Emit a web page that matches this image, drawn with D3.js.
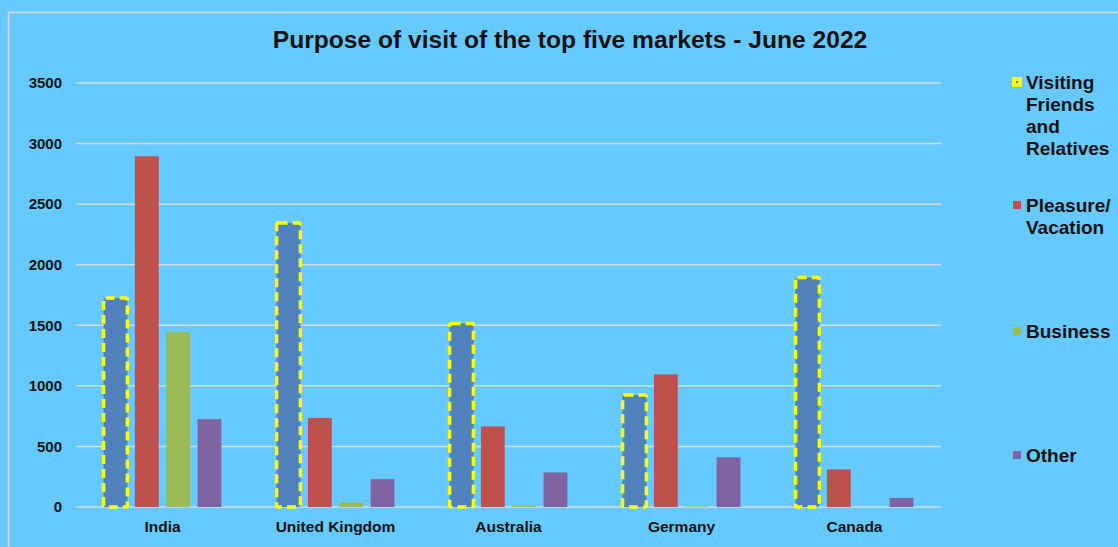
<!DOCTYPE html>
<html>
<head>
<meta charset="utf-8">
<script src="https://cdn.jsdelivr.net/npm/d3@7"></script>
<style>
body { margin:0; background:#66c9ff; }
svg { display:block; font-family: "Liberation Sans", Arial, sans-serif; }
.tick text { font-weight:bold; fill:#111; }
</style>
</head>
<body>
<div id="chart"></div>
<script>
var width = 1118;
var height = 547;

var markets = ["India", "United Kingdom", "Australia", "Germany", "Canada"];
var purposes = ["Visiting Friends and Relatives", "Pleasure/ Vacation", "Business", "Other"];
var visitingFriends = [1725, 2345, 1515, 925, 1895];
var pleasure = [2895, 735, 665, 1095, 310];
var business = [1445, 40, 10, 5, 0];
var other = [725, 230, 285, 410, 75];
var yTicks = [0, 500, 1000, 1500, 2000, 2500, 3000, 3500];
var colors = ["#4f81bd", "#c0504d", "#9bbb59", "#8064a2"];

var series = [visitingFriends, pleasure, business, other];
var rows = markets.map(function(m, i) {
    return { market: m, values: purposes.map(function(p, j) { return { key: p, idx: j, value: series[j][i] }; }) };
});

var svg = d3.select("#chart").append("svg")
    .attr("width", width)
    .attr("height", height);

// background and frame
svg.append("rect").attr("width", width).attr("height", height).attr("fill", "#66c9ff");
svg.append("rect")
    .attr("x", 8.5).attr("y", 12.5)
    .attr("width", width).attr("height", height)
    .attr("fill", "none").attr("stroke", "#d9d9d9").attr("stroke-width", 1.5);

svg.append("text")
    .attr("x", 570).attr("y", 48)
    .attr("text-anchor", "middle")
    .style("font-size", "24.6px").style("font-weight", "bold").attr("fill", "#111")
    .text("Purpose of visit of the top five markets - June 2022");

var x0 = d3.scaleBand().domain(markets).range([76, 941]);
var x1 = d3.scaleBand().domain(purposes).range([0, x0.bandwidth()])
    .paddingInner(0.24).paddingOuter(0.88);
var y = d3.scaleLinear().domain([0, 3500]).range([507, 83]);

// gridlines
svg.append("g").selectAll("line")
    .data(yTicks)
    .enter().append("line")
    .attr("x1", 76).attr("x2", 941)
    .attr("y1", function(d) { return y(d); })
    .attr("y2", function(d) { return y(d); })
    .attr("stroke", "#d9d9d9").attr("stroke-width", 1.5);

var yAxis = d3.axisLeft(y).tickValues(yTicks).tickFormat(d3.format("d")).tickSize(0).tickPadding(0);
svg.append("g")
    .attr("transform", "translate(62,0)")
    .call(yAxis)
    .call(function(g) { g.select(".domain").remove(); })
    .selectAll("text").style("font-size", "15px");

var xAxis = d3.axisBottom(x0).tickSize(0).tickPadding(0);
svg.append("g")
    .attr("transform", "translate(0,521)")
    .call(xAxis)
    .call(function(g) { g.select(".domain").remove(); })
    .selectAll("text").style("font-size", "15.5px");

// bars
var groups = svg.append("g").selectAll("g")
    .data(rows)
    .enter().append("g")
    .attr("transform", function(d) { return "translate(" + x0(d.market) + ",0)"; });

groups.selectAll("rect")
    .data(function(d) { return d.values; })
    .enter().append("rect")
    .attr("x", function(d) { return x1(d.key); })
    .attr("y", function(d) { return y(d.value); })
    .attr("width", x1.bandwidth())
    .attr("height", function(d) { return y(0) - y(d.value); })
    .attr("fill", function(d) { return colors[d.idx]; })
    .attr("stroke", function(d) { return d.idx === 0 ? "#ffff00" : "none"; })
    .attr("stroke-width", 3.5)
    .attr("stroke-dasharray", "9,5")
    .attr("rx", function(d) { return d.idx === 0 ? 2 : 0; });

// legend
var legendItems = [
    { lines: ["Visiting", "Friends", "and", "Relatives"], y: 82 },
    { lines: ["Pleasure/", "Vacation"], y: 205 },
    { lines: ["Business"], y: 331 },
    { lines: ["Other"], y: 455 }
];
var legend = svg.append("g").selectAll("g")
    .data(legendItems)
    .enter().append("g");

legend.append("rect")
    .attr("x", function(d, i) { return i === 0 ? 1014 : 1013; })
    .attr("y", function(d, i) { return i === 0 ? d.y - 3 : d.y - 4; })
    .attr("width", function(d, i) { return i === 0 ? 6 : 8; })
    .attr("height", function(d, i) { return i === 0 ? 6 : 8; })
    .attr("fill", function(d, i) { return colors[i]; })
    .attr("stroke", function(d, i) { return i === 0 ? "#ffff00" : "none"; })
    .attr("stroke-width", 4);

legend.append("text")
    .attr("x", 1026)
    .attr("y", function(d) { return d.y; })
    .style("font-size", "19px").style("font-weight", "bold").attr("fill", "#111")
    .selectAll("tspan")
    .data(function(d) { return d.lines; })
    .enter().append("tspan")
    .attr("x", 1026)
    .attr("dy", function(d, i) { return i === 0 ? "0.35em" : 22; })
    .text(function(d) { return d; });
</script>
</body>
</html>
